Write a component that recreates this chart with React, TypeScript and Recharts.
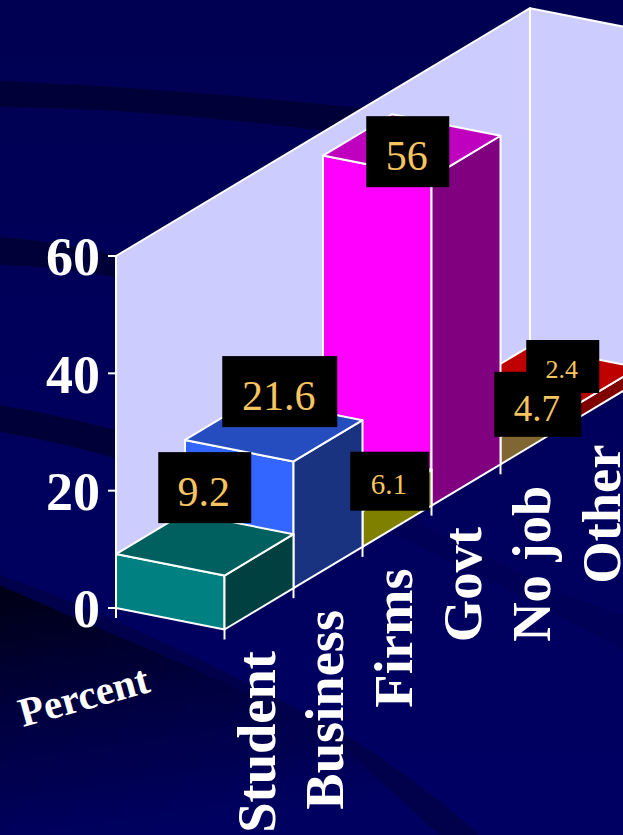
// Job destination survey drawn as an oblique 3D column chart
import { Bar, BarChart, LabelList, ReferenceArea, XAxis, YAxis } from "recharts";

const categories = ["Student", "Business", "Firms", "Govt", "No job", "Other"];
const percents = [9.2, 21.6, 6.1, 56, 4.7, 2.4];
const valueTicks = [0, 20, 40, 60];

const frontColors = ["#008080", "#3366ff", "#ffff00", "#ff00ff", "#ffcc66", "#ff0000"];
const topColors = ["#006060", "#264dbf", "#bfbf00", "#bf00bf", "#bf994d", "#bf0000"];
const sideColors = ["#004040", "#1a3380", "#808000", "#800080", "#806633", "#800000"];

// black value boxes, placed relative to the centre of each column's top face
const boxDx = [0, 6, 47, -4, 57, 13];
const boxDy = [-56.5, -38.5, 1.5, 6, -1, -11];
const boxWidths = [93, 115, 79, 83, 87, 73];
const boxHeights = [71, 71, 59, 71, 65, 53];
const boxFonts = [42, 42, 29, 42, 37, 26];

// Recharts paints in data order, so the deepest column goes first
const rows = categories
  .map((name, i) => ({ name, value: percents[i], order: i }))
  .reverse();

const WIDTH = 623;
const HEIGHT = 835;
const PLOT_LEFT = 116;
const PLOT_RIGHT = 530;
const PLOT_TOP = 256;
const PLOT_BOTTOM = 608;

// oblique projection: each band climbs as it recedes, the front edge runs down to the right
const DEPTH_SLOPE = 41.3 / 69;
const FRONT_DX = 108.5;
const FRONT_DY = 21.5;
const STROKE = 2;

const SERIF = "'Liberation Serif', 'Times New Roman', serif";
const LINE = "#ffffff";

const pts = (list: number[][]) => list.map((p) => p.join(",")).join(" ");
const liftAt = (x: number) => (x - PLOT_LEFT) * DEPTH_SLOPE;

function Column3D(props: any) {
  const { x, y, width, height, payload } = props;
  const lift = liftAt(x);
  const topY = y - lift;
  const baseY = y + height - lift;
  const rise = width * DEPTH_SLOPE;
  const c = payload.order;
  const shared = { stroke: LINE, strokeWidth: STROKE, strokeLinejoin: "round" as const };
  return (
    <g>
      <polygon
        {...shared}
        fill={frontColors[c]}
        points={pts([
          [x, topY],
          [x + FRONT_DX, topY + FRONT_DY],
          [x + FRONT_DX, baseY + FRONT_DY],
          [x, baseY],
        ])}
      />
      <polygon
        {...shared}
        fill={sideColors[c]}
        points={pts([
          [x + FRONT_DX, topY + FRONT_DY],
          [x + FRONT_DX + width, topY + FRONT_DY - rise],
          [x + FRONT_DX + width, baseY + FRONT_DY - rise],
          [x + FRONT_DX, baseY + FRONT_DY],
        ])}
      />
      <polygon
        {...shared}
        fill={topColors[c]}
        points={pts([
          [x, topY],
          [x + FRONT_DX, topY + FRONT_DY],
          [x + FRONT_DX + width, topY + FRONT_DY - rise],
          [x + width, topY - rise],
        ])}
      />
    </g>
  );
}

function Walls(props: any) {
  const { x, y, width, height } = props;
  const rise = width * DEPTH_SLOPE;
  const xBack = x + width;
  const shared = { fill: "#ccccff", stroke: LINE, strokeWidth: STROKE, strokeLinejoin: "round" as const };
  return (
    <g>
      <polygon
        {...shared}
        points={pts([
          [x, y],
          [xBack, y - rise],
          [xBack, y + height - rise],
          [x, y + height],
        ])}
      />
      <polygon
        {...shared}
        points={pts([
          [xBack, y - rise],
          [xBack + FRONT_DX, y - rise + FRONT_DY],
          [xBack + FRONT_DX, y + height - rise + FRONT_DY],
          [xBack, y + height - rise],
        ])}
      />
      <line x1={x} x2={x} y1={y + height} y2={y + height + 10} stroke={LINE} strokeWidth={STROKE} />
    </g>
  );
}

function CategoryTick(props: any) {
  const { x, payload } = props;
  const band = (PLOT_RIGHT - PLOT_LEFT) / categories.length;
  const bandLeft = x - band / 2;
  const baseY = PLOT_BOTTOM - liftAt(bandLeft);
  const tickX = bandLeft + FRONT_DX;
  const labelX = x + 124;
  const labelY = baseY + 43;
  return (
    <g>
      <line
        x1={tickX}
        x2={tickX}
        y1={baseY + FRONT_DY}
        y2={baseY + FRONT_DY + 10}
        stroke={LINE}
        strokeWidth={STROKE}
      />
      <text
        x={labelX}
        y={labelY}
        transform={`rotate(-90 ${labelX} ${labelY})`}
        textAnchor="end"
        fill="#ffffff"
        fontFamily={SERIF}
        fontWeight="bold"
        fontSize={54.5}
      >
        {payload.value}
      </text>
    </g>
  );
}

const boxCentre = (props: any) => {
  const { x, y, width, index } = props;
  const c = rows[index].order;
  return {
    c,
    cx: x + (FRONT_DX + width) / 2 + boxDx[c],
    cy: y - liftAt(x) + (FRONT_DY - width * DEPTH_SLOPE) / 2 + boxDy[c],
  };
};

function ValueBox(props: any) {
  const { c, cx, cy } = boxCentre(props);
  return (
    <rect
      x={cx - boxWidths[c] / 2}
      y={cy - boxHeights[c] / 2}
      width={boxWidths[c]}
      height={boxHeights[c]}
      fill="#000000"
    />
  );
}

function ValueText(props: any) {
  const { c, cx, cy } = boxCentre(props);
  return (
    <text
      x={cx - 1}
      y={cy + boxFonts[c] * 0.44}
      textAnchor="middle"
      fill="#f7c45f"
      fontFamily={SERIF}
      fontSize={boxFonts[c]}
    >
      {percents[c]}
    </text>
  );
}

function PercentTitle() {
  return (
    <text
      x={23}
      y={727}
      transform="rotate(-15.4 23 727)"
      fill="#ffffff"
      fontFamily={SERIF}
      fontWeight="bold"
      fontSize={41}
    >
      Percent
    </text>
  );
}

// Slide backdrop: navy wash with darker sweeping bands
function Backdrop() {
  return (
    <svg width={WIDTH} height={HEIGHT} style={{ position: "absolute", left: 0, top: 0 }}>
      <defs>
        <linearGradient id="wash" x1="0" y1="0" x2="0" y2="1">
          <stop offset="0" stopColor="#000052" />
          <stop offset="0.5" stopColor="#00005c" />
          <stop offset="1" stopColor="#000063" />
        </linearGradient>
        <linearGradient id="corner" x1="0" y1="0.05" x2="0.25" y2="1">
          <stop offset="0" stopColor="#000018" />
          <stop offset="0.45" stopColor="#00003e" />
          <stop offset="1" stopColor="#000060" />
        </linearGradient>
      </defs>
      <rect width={WIDTH} height={HEIGHT} fill="url(#wash)" />
      <path d="M0 81 C120 86 240 95 380 110 L380 138 C230 118 110 108 0 107 Z" fill="#000038" />
      <path d="M0 237 C40 240 80 246 130 258 L130 280 C80 270 40 266 0 265 Z" fill="#000038" />
      <path d="M0 405 C40 412 80 420 130 434 L130 462 C80 448 40 438 0 432 Z" fill="#000038" />
      <path d="M0 575 C130 620 260 690 320 720 C390 760 440 800 480 835 L0 835 Z" fill="#00004b" />
      <path d="M0 585 C120 640 260 690 340 745 C370 770 400 800 440 835 L0 835 Z" fill="url(#corner)" />
      <path d="M400 512 C480 555 560 595 623 615 L623 650 C550 610 470 570 395 535 Z" fill="#000057" />
    </svg>
  );
}

export default function App() {
  return (
    <div style={{ position: "absolute", left: 0, top: 0, width: WIDTH, height: HEIGHT, overflow: "hidden" }}>
      <Backdrop />
      <div style={{ position: "absolute", left: 0, top: 0 }}>
        <BarChart
          width={WIDTH}
          height={HEIGHT}
          data={rows}
          barCategoryGap={0}
          margin={{ top: PLOT_TOP, right: WIDTH - PLOT_RIGHT, bottom: 0, left: 0 }}
        >
          <ReferenceArea y1={0} y2={60} ifOverflow="visible" shape={<Walls />} />
          <XAxis
            dataKey="name"
            reversed
            interval={0}
            height={HEIGHT - PLOT_BOTTOM}
            axisLine={false}
            tickLine={false}
            tick={<CategoryTick />}
          />
          <YAxis
            width={PLOT_LEFT}
            domain={[0, 60]}
            ticks={valueTicks}
            axisLine={false}
            tickSize={8}
            tickMargin={8}
            tickLine={{ stroke: LINE, strokeWidth: STROKE }}
            tick={{ fill: "#ffffff", fontFamily: SERIF, fontWeight: "bold", fontSize: 54 }}
            label={<PercentTitle />}
          />
          <Bar dataKey="value" isAnimationActive={false} shape={<Column3D />}>
            <LabelList dataKey="value" content={<ValueBox />} />
            <LabelList dataKey="value" content={<ValueText />} />
          </Bar>
        </BarChart>
      </div>
    </div>
  );
}
